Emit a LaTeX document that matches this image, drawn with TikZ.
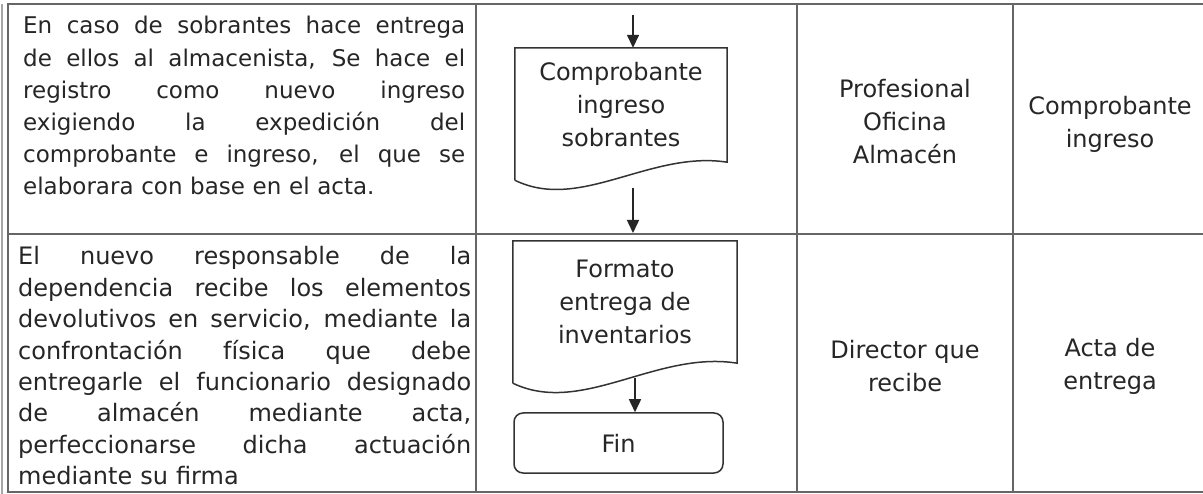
\documentclass[tikz,border=0pt]{standalone}
\usepackage{fontspec}
\setmainfont{DejaVu Sans}
\usepackage{tikz}
\usetikzlibrary{arrows.meta,calc}
\tikzset{celltext/.style={inner sep=0pt, align=left, text=black!85},
flowtext/.style={inner sep=0pt, align=center, text=black!85,
font=\fontsize{24}{33}\selectfont},
docbox/.style={rectangle, inner sep=0pt, align=center, text=black!85,
font=\fontsize{24}{33}\selectfont},
finbox/.style={draw=black!80, line width=1.5pt, rounded corners=9pt,
minimum width=209pt, minimum height=60pt, text=black!85,
font=\fontsize{24}{33}\selectfont},
grid/.style={draw=black!60, line width=2.5pt},
arrow/.style={draw=black!85, line width=1.5pt,-{Triangle[length=13pt,width=12pt]}},
line/.style={draw=black!80, line width=1.5pt}}
% one justified line of a cell
\newcommand{\jline}[2][442pt]{\leavevmode\hbox to #1{\spaceskip=0.32em plus 1fil\relax#2}\\}

\begin{document}
\begin{tikzpicture}[x=1pt,y=-1pt]
    \useasboundingbox (0,0) rectangle (1203,494);
    \fill[white] (0,0) rectangle (1203,494);

    % Table
    \draw[black!35, line width=2pt] (2,4) -- (2,494);
    \draw[grid] (8,4) rectangle (1212,492);
    \draw[grid] (8,234) -- (1212,234);
    \foreach \x in {476,797,1013}
        \draw[grid] (\x,4) -- (\x,492);

    % Activity texts
    \node[celltext, anchor=base west, text width=442pt,
        font=\fontsize{23}{32.2}\selectfont] (act1) at (23,34) {%
        \jline{En caso de sobrantes hace entrega}
        \jline{de ellos al almacenista, Se hace el}
        \jline{registro como nuevo ingreso}
        \jline{exigiendo la expedición del}
        \jline{comprobante e ingreso, el que se}
        elaborara con base en el acta.};
    \node[celltext, anchor=base west, text width=453pt,
        font=\fontsize{24}{31.4}\selectfont] (act2) at (18,265) {%
        \jline[453pt]{El nuevo responsable de la}
        \jline[453pt]{dependencia recibe los elementos}
        \jline[453pt]{devolutivos en servicio, mediante la}
        \jline[453pt]{confrontación física que debe}
        \jline[453pt]{entregarle el funcionario designado}
        \jline[453pt]{de almacén mediante acta,}
        \jline[453pt]{perfeccionarse dicha actuación}
        mediante su firma};

    % Flow column
    \node[docbox, minimum width=212pt, minimum height=114pt] (doc1) at (621,105)
        {Comprobante\\ingreso\\sobrantes};
    \draw[line] ($(doc1.south west)+(0,18)$) -- (doc1.north west) -- (doc1.north east)
        -- (doc1.south east) .. controls ($(doc1.south east)+(-77,-12)$)
        and ($(doc1.south west)+(65,50)$) .. ($(doc1.south west)+(0,18)$);

    \node[docbox, minimum width=224pt, minimum height=122pt] (doc2) at (625,302)
        {Formato\\entrega de\\inventarios};
    \draw[line] ($(doc2.south west)+(0,20)$) -- (doc2.north west) -- (doc2.north east)
        -- (doc2.south east) .. controls ($(doc2.south east)+(-81,-13)$)
        and ($(doc2.south west)+(69,53)$) .. ($(doc2.south west)+(0,20)$);

    \node[finbox] (fin) at (618.5,443) {Fin};

    \coordinate (in1) at (633,15);
    \coordinate (out1) at (633,188);
    \coordinate (in2) at (633,233);
    \coordinate (out2) at (635,378);
    \draw[arrow] (in1) -- (in1 |- doc1.north);
    \draw[arrow] (out1) -- (in2);
    \draw[arrow] (out2) -- (out2 |- fin.north);

    % Responsible and record columns
    \node[flowtext] (resp1) at (905,122) {Profesional\\Oficina\\Almacén};
    \node[flowtext] (reg1) at (1110,124) {Comprobante\\ingreso};
    \node[flowtext] (resp2) at (905,366) {Director que\\recibe};
    \node[flowtext] (reg2) at (1110,366) {Acta de\\entrega};
\end{tikzpicture}
\end{document}
